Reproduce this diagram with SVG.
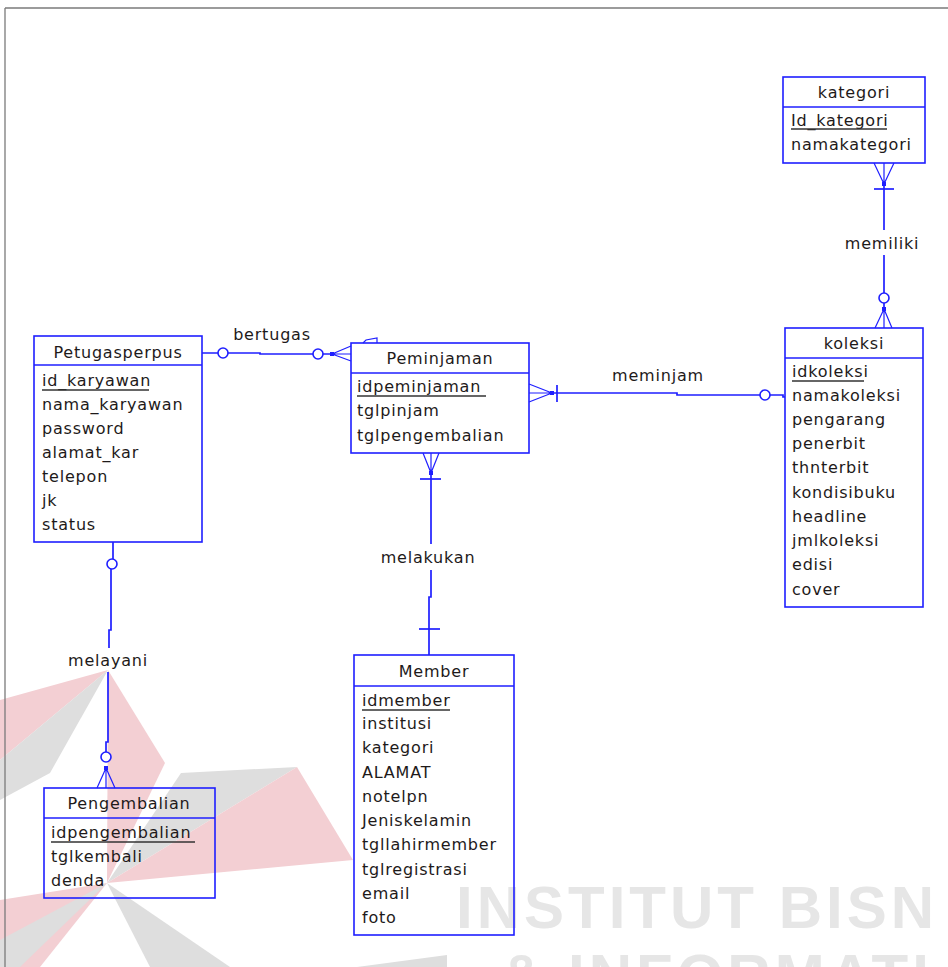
<svg xmlns="http://www.w3.org/2000/svg" width="948" height="967" viewBox="0 0 948 967">
<style>
.box{fill:none;stroke:#1f1fff;stroke-width:1.6}
.div{stroke:#1f1fff;stroke-width:1.6}
.t{font-family:"DejaVu Sans",sans-serif;font-size:16px;letter-spacing:0.8px;fill:#1e1a1a}
.tc{text-anchor:middle}
.ul{stroke:#333;stroke-width:1.5}
.c{fill:none;stroke:#1f1fff;stroke-width:1.7}
.cf{fill:none;stroke:#1f1fff;stroke-width:1.2}
.o{fill:#fff;stroke:#1f1fff;stroke-width:1.6}
.dot{fill:#1f1fff}
.wp{fill:#f3cfd3}
.wg{fill:#dedede}
.wt{font-family:"Liberation Sans",sans-serif;font-weight:bold;font-size:60px;letter-spacing:4px;fill:#e6e6e6}
</style>
<rect width="948" height="967" fill="#fff"/>
<g id="watermark">
<polygon class="wp" points="0,700 108,670 0,760"/>
<polygon class="wg" points="0,760 108,670 50,773 0,800"/>
<polygon class="wp" points="108,670 165,763 107,883"/>
<polygon class="wg" points="297,767 181,773 107,883"/>
<polygon class="wp" points="297,767 353,860 107,883"/>
<polygon class="wp" points="0,900 107,883 40,967 0,967"/>
<polygon class="wg" points="107,883 230,967 150,967"/>
<polygon class="wg" points="0,940 107,883 20,967 0,967"/>
<polygon class="wg" points="357,967 447,955 447,967"/>
<text class="wt" x="456" y="928">INSTITUT BISN</text>
<text class="wt" x="500" y="996">&amp; INFORMATI</text>
</g>
<g id="frame" fill="none" stroke="#7a7a7a" stroke-width="1.3">
<line x1="5" y1="8" x2="948" y2="8"/>
<line x1="5" y1="8" x2="5" y2="967"/>
</g>
<g id="connectors">
<polyline class="c" points="202,353 260,353 260,354 332,354"/>
<circle class="o" cx="223" cy="353" r="5"/>
<circle class="o" cx="318" cy="354" r="5"/>
<rect class="dot" x="330" y="352" width="4" height="4"/>
<path class="cf" d="M332,354 L351,346 M332,354 L351,361 M332,354 L351,354"/>
<path class="cf" d="M363,343 L366,340 L377,338 L377,343"/>
<text class="t tc" x="272" y="340">bertugas</text>
<path class="cf" d="M529,384 L552,393 M529,402 L552,393 M529,393 L552,393"/>
<rect class="dot" x="550" y="391" width="4" height="4"/>
<line class="c" x1="557" y1="385" x2="557" y2="402"/>
<polyline class="c" points="552,393 677,393 677,395 760,395"/>
<circle class="o" cx="765" cy="395" r="5"/>
<polyline class="c" points="770,395 783,395 783,397 785,397"/>
<text class="t tc" x="658" y="381">meminjam</text>
<path class="cf" d="M423,453 L431,473 M439,453 L431,473 M431,453 L431,473"/>
<rect class="dot" x="429" y="471" width="4" height="4"/>
<line class="c" x1="420" y1="479" x2="441" y2="479"/>
<line class="c" x1="431" y1="473" x2="431" y2="544"/>
<polyline class="c" points="431,570 431,597 429,597 429,655"/>
<line class="c" x1="419" y1="629" x2="440" y2="629"/>
<text class="t tc" x="428" y="563">melakukan</text>
<line class="c" x1="113" y1="542" x2="113" y2="559"/>
<circle class="o" cx="112" cy="564" r="5"/>
<polyline class="c" points="111,569 111,630 109,630 109,648"/>
<polyline class="c" points="108,672 108,742 106,742 106,752"/>
<circle class="o" cx="106" cy="757" r="5"/>
<rect class="dot" x="104" y="766" width="4" height="4"/>
<path class="cf" d="M106,768 L97,788 M106,768 L115,788 M106,768 L106,788"/>
<text class="t tc" x="108" y="666">melayani</text>
<path class="cf" d="M874,163 L884,184 M894,163 L884,184 M884,163 L884,184"/>
<rect class="dot" x="882" y="182" width="4" height="4"/>
<line class="c" x1="874" y1="189" x2="894" y2="189"/>
<line class="c" x1="884" y1="184" x2="884" y2="230"/>
<line class="c" x1="884" y1="255" x2="884" y2="293"/>
<circle class="o" cx="884" cy="298" r="5"/>
<line class="c" x1="884" y1="303" x2="884" y2="309"/>
<rect class="dot" x="882" y="307" width="4" height="4"/>
<path class="cf" d="M884,309 L875,328 M884,309 L892,328 M884,309 L884,328"/>
<text class="t tc" x="882" y="249">memiliki</text>
</g>
<g id="kategori">
<rect class="box" x="783" y="77" width="142" height="86"/>
<line class="div" x1="783" y1="107" x2="925" y2="107"/>
<text class="t tc" x="854" y="98">kategori</text>
<text class="t" x="791" y="126">Id_kategori</text>
<line class="ul" x1="791" y1="129" x2="887" y2="129"/>
<text class="t" x="791" y="150">namakategori</text>
</g>
<g id="koleksi">
<rect class="box" x="785" y="328" width="138" height="279"/>
<line class="div" x1="785" y1="358" x2="923" y2="358"/>
<text class="t tc" x="854" y="349">koleksi</text>
<text class="t" x="792" y="377">idkoleksi</text>
<line class="ul" x1="792" y1="381" x2="864" y2="381"/>
<text class="t" x="792" y="401">namakoleksi</text>
<text class="t" x="792" y="425">pengarang</text>
<text class="t" x="792" y="449">penerbit</text>
<text class="t" x="792" y="473">thnterbit</text>
<text class="t" x="792" y="498">kondisibuku</text>
<text class="t" x="792" y="522">headline</text>
<text class="t" x="792" y="546">jmlkoleksi</text>
<text class="t" x="792" y="570">edisi</text>
<text class="t" x="792" y="595">cover</text>
</g>
<g id="Petugasperpus">
<rect class="box" x="34" y="336" width="168" height="206"/>
<line class="div" x1="34" y1="365" x2="202" y2="365"/>
<text class="t tc" x="118" y="358">Petugasperpus</text>
<text class="t" x="42" y="386">id_karyawan</text>
<line class="ul" x1="42" y1="390" x2="149" y2="390"/>
<text class="t" x="42" y="410">nama_karyawan</text>
<text class="t" x="42" y="434">password</text>
<text class="t" x="42" y="458">alamat_kar</text>
<text class="t" x="42" y="482">telepon</text>
<text class="t" x="42" y="506">jk</text>
<text class="t" x="42" y="530">status</text>
</g>
<g id="Peminjaman">
<rect class="box" x="351" y="343" width="178" height="110"/>
<line class="div" x1="351" y1="373" x2="529" y2="373"/>
<text class="t tc" x="440" y="364">Peminjaman</text>
<text class="t" x="357" y="392">idpeminjaman</text>
<line class="ul" x1="357" y1="396" x2="486" y2="396"/>
<text class="t" x="357" y="416">tglpinjam</text>
<text class="t" x="357" y="441">tglpengembalian</text>
</g>
<g id="Member">
<rect class="box" x="354" y="655" width="160" height="280"/>
<line class="div" x1="354" y1="686" x2="514" y2="686"/>
<text class="t tc" x="434" y="677">Member</text>
<text class="t" x="362" y="706">idmember</text>
<line class="ul" x1="362" y1="710" x2="450" y2="710"/>
<text class="t" x="362" y="729">institusi</text>
<text class="t" x="362" y="753">kategori</text>
<text class="t" x="362" y="778">ALAMAT</text>
<text class="t" x="362" y="802">notelpn</text>
<text class="t" x="362" y="826">Jeniskelamin</text>
<text class="t" x="362" y="850">tgllahirmember</text>
<text class="t" x="362" y="875">tglregistrasi</text>
<text class="t" x="362" y="899">email</text>
<text class="t" x="362" y="923">foto</text>
</g>
<g id="Pengembalian">
<rect class="box" x="44" y="788" width="171" height="110"/>
<line class="div" x1="44" y1="818" x2="215" y2="818"/>
<text class="t tc" x="129" y="809">Pengembalian</text>
<text class="t" x="51" y="838">idpengembalian</text>
<line class="ul" x1="51" y1="842" x2="195" y2="842"/>
<text class="t" x="51" y="862">tglkembali</text>
<text class="t" x="51" y="886">denda</text>
</g>
</svg>
